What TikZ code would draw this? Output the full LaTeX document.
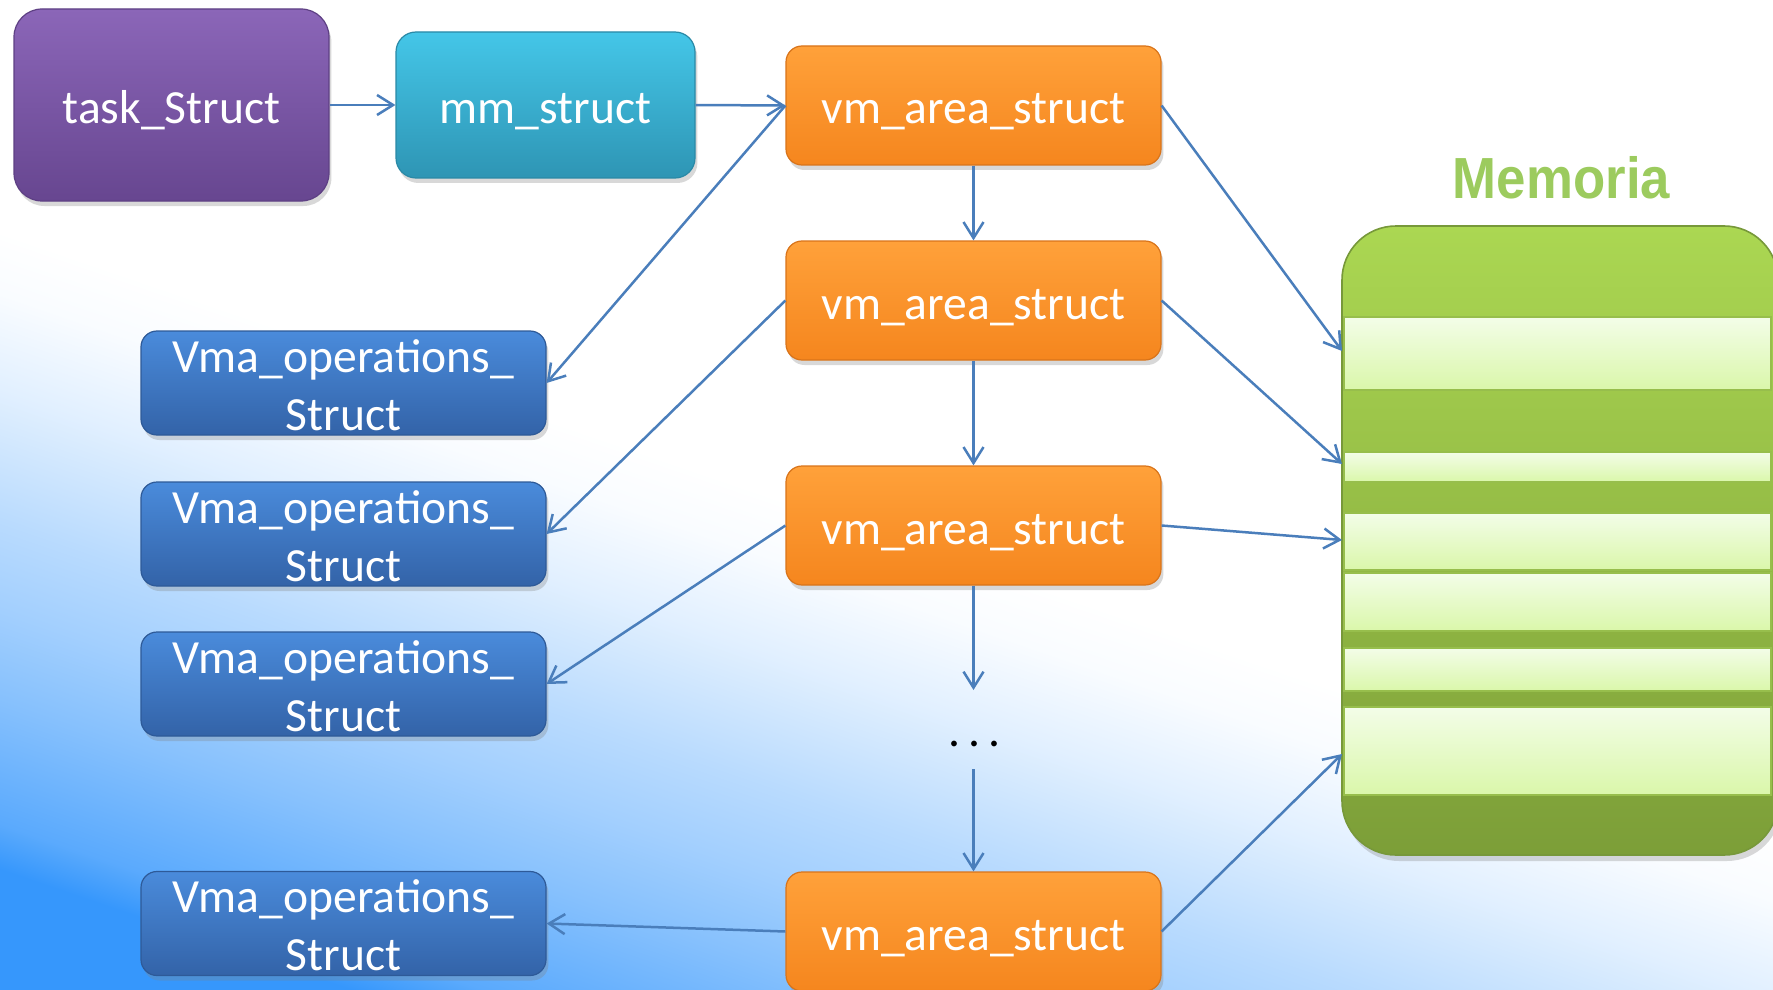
\documentclass[tikz,border=0pt]{standalone}
\usepackage{fontspec}
\setmainfont{Carlito}
\newfontfamily\memfont{Liberation Sans}
\usepackage{graphicx}
\usetikzlibrary{arrows.meta,shadows}

% palette
\definecolor{bgblue}{HTML}{3697FC}
\colorlet{bgBa}{bgblue!82!white}
\colorlet{bgBb}{bgblue!60!white}
\colorlet{bgBc}{bgblue!46!white}
\colorlet{bgBd}{bgblue!35!white}
\colorlet{bgBe}{bgblue!15!white}
\colorlet{bgBf}{bgblue!3!white}
\definecolor{arrowblue}{HTML}{4A7EBB}
\definecolor{purpletop}{HTML}{8B66B8}
\definecolor{purplebot}{HTML}{674690}
\definecolor{purpleedge}{HTML}{5E4084}
\definecolor{tealtop}{HTML}{44C6E8}
\definecolor{tealbot}{HTML}{2E95B4}
\definecolor{tealedge}{HTML}{2A89A6}
\definecolor{orangetop}{HTML}{FFA13A}
\definecolor{orangebot}{HTML}{F5861E}
\definecolor{orangeedge}{HTML}{D9741A}
\definecolor{vmatop}{HTML}{4A8BDB}
\definecolor{vmabot}{HTML}{3363A8}
\definecolor{vmaedge}{HTML}{2E5A98}
\definecolor{greentop}{HTML}{ABD752}
\definecolor{greenbot}{HTML}{7C9E38}
\definecolor{greenedge}{HTML}{77983A}
\definecolor{lighttop}{HTML}{F3FDE8}
\definecolor{lightbot}{HTML}{DAF7AA}
\definecolor{lightedge}{HTML}{97BE4C}
\definecolor{memtitle}{HTML}{9CCB5E}

% backdrop fading from blue (lower left) to white (upper right)
\pgfdeclarehorizontalshading{bgfade}{100bp}{color(0bp)=(bgblue); color(32bp)=(bgblue); color(33.2bp)=(bgBa); color(36.5bp)=(bgBb); color(38.9bp)=(bgBc); color(41.2bp)=(bgBd); color(44.7bp)=(bgBe); color(47.3bp)=(bgBf); color(49bp)=(white); color(100bp)=(white)}

% two centred lines, baseline on the last one
\newcommand{\twolines}[2]{\vbox{\baselineskip=29pt\halign{\hfil##\hfil\cr#1\cr#2\cr}}}

\tikzset{
  box/.style={draw, line width=0.6pt, text=white, inner sep=0pt,
    font=\fontsize{23.8}{29}\selectfont,
    drop shadow={shadow xshift=1.2pt, shadow yshift=-2.5pt, opacity=0.3},
    text height=18.5pt, text depth=0pt},
  taskbox/.style={box, minimum width=157.5pt, minimum height=96pt, rounded corners=14pt,
    top color=purpletop, bottom color=purplebot, draw=purpleedge},
  mmbox/.style={box, minimum width=149.5pt, minimum height=73pt, rounded corners=10pt,
    top color=tealtop, bottom color=tealbot, draw=tealedge},
  vmbox/.style={box, minimum width=187.5pt, minimum height=59.5pt, rounded corners=8pt,
    top color=orangetop, bottom color=orangebot, draw=orangeedge},
  opsbox/.style={box, minimum width=202.5pt, minimum height=52pt, rounded corners=8pt,
    top color=vmatop, bottom color=vmabot, draw=vmaedge, text height=47pt},
  link/.style={draw=arrowblue, line width=1.25pt,
    -{Straight Barb[length=8pt, width=10pt]}},
  band/.style={top color=lighttop, bottom color=lightbot, draw=lightedge, line width=1pt},
}

\begin{document}
\begin{tikzpicture}[x=0.5pt, y=-0.5pt]
\useasboundingbox (0,0) rectangle (1773,990);

% backdrop: a square shaded along a fixed direction, clipped to the page
\begin{scope}
  \clip (0,0) rectangle (1773,990);
  \shade[shading=bgfade, shading angle=71.1] (-3.5,-395) rectangle (1776.5,1385);
\end{scope}

% memory column
\shade[top color=greentop, bottom color=greenbot, draw=greenedge, line width=0.8pt,
  rounded corners=27pt, drop shadow={shadow xshift=1.5pt, shadow yshift=-3pt, opacity=0.3}]
  (1342,226) rectangle (1778,855);
\shade[band] (1344,317) rectangle (1771,390);
\shade[band] (1344,452) rectangle (1771,482);
\shade[band] (1344,513) rectangle (1771,570);
\shade[band] (1344,573) rectangle (1771,631);
\shade[band] (1344,648) rectangle (1771,691);
\shade[band] (1344,707) rectangle (1771,795);

\node[font=\memfont\bfseries\fontsize{29}{29}\selectfont, text=memtitle, inner sep=0pt]
  (memtitle) at (1561.5,178) {\scalebox{0.91}[1]{Memoria}};

% entry points on the memory column
\coordinate (mA) at (1342,351);
\coordinate (mB) at (1342,464);
\coordinate (mC) at (1342,540);
\coordinate (mD) at (1342,754);

% structures
\node[taskbox] (task) at (171.5,105) {task\_Struct};
\node[mmbox]   (mm)   at (545.5,105) {mm\_struct};

\node[vmbox] (vm1) at (973.5,105.5) {vm\_area\_struct};
\node[vmbox] (vm2) at (973.5,300.5) {vm\_area\_struct};
\node[vmbox] (vm3) at (973.5,525.5) {vm\_area\_struct};
\node[vmbox] (vm5) at (973.5,931.5) {vm\_area\_struct};

\node[opsbox] (ops1) at (343.5,383)   {\twolines{Vma\_operations\_}{Struct}};
\node[opsbox] (ops2) at (343.5,534)   {\twolines{Vma\_operations\_}{Struct}};
\node[opsbox] (ops3) at (343.5,684)   {\twolines{Vma\_operations\_}{Struct}};
\node[opsbox] (ops4) at (343.5,923.5) {\twolines{Vma\_operations\_}{Struct}};

\node[font=\fontsize{23.8}{29}\selectfont, inner sep=0pt] (dots) at (975,744)
  {.\kern4pt.\kern4pt.};
\coordinate (gapTop) at (973.5,690);
\coordinate (gapBot) at (973.5,769);

% connectors
\draw[link] (task.east) -- (mm.west);
\draw[link] (mm.east) -- (vm1.west);

\draw[link] (vm1.south) -- (vm2.north);
\draw[link] (vm2.south) -- (vm3.north);
\draw[link] (vm3.south) -- (gapTop);
\draw[link] (gapBot) -- (vm5.north);

\draw[link] (vm1.west) -- (ops1.east);
\draw[link] (vm2.west) -- (ops2.east);
\draw[link] (vm3.west) -- (ops3.east);
\draw[link] (vm5.west) -- (ops4.east);

\draw[link] (vm1.east) -- (mA);
\draw[link] (vm2.east) -- (mB);
\draw[link] (vm3.east) -- (mC);
\draw[link] (vm5.east) -- (mD);
\end{tikzpicture}
\end{document}
